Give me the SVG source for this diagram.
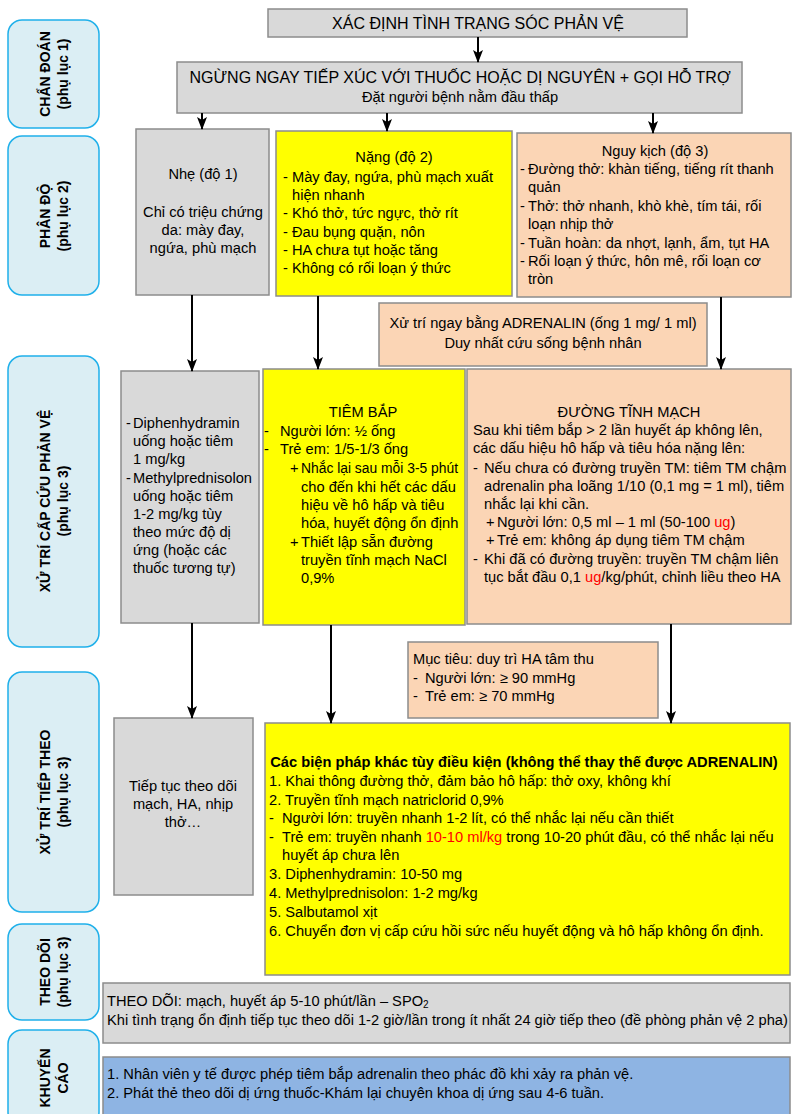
<svg xmlns="http://www.w3.org/2000/svg" width="792" height="1114" viewBox="0 0 792 1114">
  <defs>
    <marker id="arrow" viewBox="0 0 13 10" refX="12" refY="5" markerWidth="13" markerHeight="10" markerUnits="userSpaceOnUse" orient="auto">
      <path d="M0,0 L13,5 L0,10 L3,5 z" fill="#000"/>
    </marker>
    <style>
      text { font-family: "Liberation Sans", Arial, sans-serif; font-size: 14.67px; fill: #000; }
      .side { fill: #dbeef4; stroke: #1fb0ea; stroke-width: 1.5; }
      .sidelbl { font-size: 14px; font-weight: bold; text-anchor: middle; }
      .gray { fill: #d9d9d9; stroke: #8c8c8c; stroke-width: 1.5; }
      .yellow { fill: #ffff00; stroke: #8c8c8c; stroke-width: 1.5; }
      .peach { fill: #fbd5b5; stroke: #8c8c8c; stroke-width: 1.5; }
      .blue { fill: #8eb4e3; stroke: #8c8c8c; stroke-width: 1.5; }
      .head { font-size: 16px; }
      .mid { text-anchor: middle; }
      .red { fill: #ff0000; }
      .conn line { stroke: #000; stroke-width: 2; marker-end: url(#arrow); }
    </style>
  </defs>
  <rect width="792" height="1114" fill="#fff"/>

  <!-- stage labels on the left -->
  <g id="stage-chan-doan">
    <rect class="side" x="8" y="20" width="91" height="108" rx="14"/>
    <text class="sidelbl" transform="translate(50,74) rotate(-90)">CHẨN ĐOÁN</text>
    <text class="sidelbl" transform="translate(68,74) rotate(-90)">(phụ lục 1)</text>
  </g>
  <g id="stage-phan-do">
    <rect class="side" x="8" y="136" width="91" height="159" rx="14"/>
    <text class="sidelbl" transform="translate(50,216) rotate(-90)">PHÂN ĐỘ</text>
    <text class="sidelbl" transform="translate(68,216) rotate(-90)">(phụ lục 2)</text>
  </g>
  <g id="stage-xu-tri-cap-cuu">
    <rect class="side" x="8" y="356" width="91" height="291" rx="14"/>
    <text class="sidelbl" transform="translate(50,501) rotate(-90)">XỬ TRÍ CẤP CỨU PHẢN VỆ</text>
    <text class="sidelbl" transform="translate(68,501) rotate(-90)">(phụ lục 3)</text>
  </g>
  <g id="stage-xu-tri-tiep-theo">
    <rect class="side" x="8" y="672" width="91" height="240" rx="14"/>
    <text class="sidelbl" transform="translate(50,792) rotate(-90)">XỬ TRÍ TIẾP THEO</text>
    <text class="sidelbl" transform="translate(68,792) rotate(-90)">(phụ lục 3)</text>
  </g>
  <g id="stage-theo-doi">
    <rect class="side" x="8" y="924" width="91" height="96" rx="14"/>
    <text class="sidelbl" transform="translate(50,972) rotate(-90)">THEO DÕI</text>
    <text class="sidelbl" transform="translate(68,972) rotate(-90)">(phụ lục 3)</text>
  </g>
  <g id="stage-khuyen-cao">
    <rect class="side" x="8" y="1030" width="91" height="96" rx="14"/>
    <text class="sidelbl" transform="translate(50,1078) rotate(-90)">KHUYẾN</text>
    <text class="sidelbl" transform="translate(68,1078) rotate(-90)">CÁO</text>
  </g>

  <!-- diagnosis -->
  <g id="xac-dinh">
    <rect class="gray" x="268" y="9" width="419" height="28"/>
    <text class="head mid" x="478" y="29">XÁC ĐỊNH TÌNH TRẠNG SÓC PHẢN VỆ</text>
  </g>
  <g id="ngung-tiep-xuc">
    <rect class="gray" x="177" y="62" width="565" height="51"/>
    <text class="head mid" x="460" y="83">NGỪNG NGAY TIẾP XÚC VỚI THUỐC HOẶC DỊ NGUYÊN + GỌI HỖ TRỢ</text>
    <text class="mid" x="460" y="102">Đặt người bệnh nằm đầu thấp</text>
  </g>

  <!-- severity grades -->
  <g id="do-1">
    <rect class="gray" x="136" y="129" width="133" height="166"/>
    <text class="mid" x="203" y="179">Nhẹ (độ 1)</text>
    <text class="mid" x="203" y="217">Chỉ có triệu chứng</text>
    <text class="mid" x="203" y="235">da: mày đay,</text>
    <text class="mid" x="203" y="253">ngứa, phù mạch</text>
  </g>
  <g id="do-2">
    <rect class="yellow" x="276" y="131" width="236" height="165"/>
    <text class="mid" x="394" y="162">Nặng (độ 2)</text>
    <text x="283" y="182">-</text><text x="292" y="182">Mày đay, ngứa, phù mạch xuất</text>
    <text x="292" y="200">hiện nhanh</text>
    <text x="283" y="218">-</text><text x="292" y="218">Khó thở, tức ngực, thở rít</text>
    <text x="283" y="237">-</text><text x="292" y="237">Đau bụng quặn, nôn</text>
    <text x="283" y="255">-</text><text x="292" y="255">HA chưa tụt hoặc tăng</text>
    <text x="283" y="273">-</text><text x="292" y="273">Không có rối loạn ý thức</text>
  </g>
  <g id="do-3">
    <rect class="peach" x="517" y="133" width="274" height="164"/>
    <text class="mid" x="655" y="156">Nguy kịch (độ 3)</text>
    <text x="520" y="174">-</text><text x="528" y="174">Đường thở: khàn tiếng, tiếng rít thanh</text>
    <text x="528" y="192">quản</text>
    <text x="520" y="211">-</text><text x="528" y="211">Thở: thở nhanh, khò khè, tím tái, rối</text>
    <text x="528" y="229">loạn nhịp thở</text>
    <text x="520" y="248">-</text><text x="528" y="248">Tuần hoàn: da nhợt, lạnh, ẩm, tụt HA</text>
    <text x="520" y="266">-</text><text x="528" y="266">Rối loạn ý thức, hôn mê, rối loạn cơ</text>
    <text x="528" y="284">tròn</text>
  </g>
  <g id="adrenalin">
    <rect class="peach" x="379" y="303" width="328" height="63"/>
    <text class="mid" x="543" y="328">Xử trí ngay bằng ADRENALIN (ống 1 mg/ 1 ml)</text>
    <text class="mid" x="543" y="348">Duy nhất cứu sống bệnh nhân</text>
  </g>

  <!-- emergency treatment -->
  <g id="khang-histamin">
    <rect class="gray" x="121" y="371" width="138" height="252"/>
    <text x="126" y="428">-</text><text x="133" y="428">Diphenhydramin</text>
    <text x="133" y="446">uống hoặc tiêm</text>
    <text x="133" y="464">1 mg/kg</text>
    <text x="126" y="483">-</text><text x="133" y="483">Methylprednisolon</text>
    <text x="133" y="501">uống hoặc tiêm</text>
    <text x="133" y="519">1-2 mg/kg tùy</text>
    <text x="133" y="537">theo mức độ dị</text>
    <text x="133" y="555">ứng (hoặc các</text>
    <text x="133" y="573">thuốc tương tự)</text>
  </g>
  <g id="tiem-bap">
    <rect class="yellow" x="263" y="369" width="202" height="256"/>
    <text class="mid" x="363" y="417">TIÊM BẮP</text>
    <text x="264" y="436">-</text><text x="280" y="436">Người lớn: ½ ống</text>
    <text x="264" y="454">-</text><text x="280" y="454">Trẻ em: 1/5-1/3 ống</text>
    <text x="290" y="473">+</text><text x="301" y="473" textLength="157" lengthAdjust="spacingAndGlyphs">Nhắc lại sau mỗi 3-5 phút</text>
    <text x="301" y="492">cho đến khi hết các dấu</text>
    <text x="301" y="510">hiệu về hô hấp và tiêu</text>
    <text x="301" y="528">hóa, huyết động ổn định</text>
    <text x="290" y="547">+</text><text x="301" y="547">Thiết lập sẵn đường</text>
    <text x="301" y="565">truyền tĩnh mạch NaCl</text>
    <text x="301" y="583">0,9%</text>
  </g>
  <g id="tinh-mach">
    <rect class="peach" x="467" y="369" width="324" height="255"/>
    <text class="mid" x="629" y="417">ĐƯỜNG TĨNH MẠCH</text>
    <text x="473" y="435">Sau khi tiêm bắp &gt; 2 lần huyết áp không lên,</text>
    <text x="473" y="453">các dấu hiệu hô hấp và tiêu hóa nặng lên:</text>
    <text x="473" y="473">-</text><text x="484" y="473">Nếu chưa có đường truyền TM: tiêm TM chậm</text>
    <text x="484" y="491">adrenalin pha loãng 1/10 (0,1 mg = 1 ml), tiêm</text>
    <text x="484" y="509">nhắc lại khi cần.</text>
    <text x="486" y="527">+</text><text x="497" y="527">Người lớn: 0,5 ml – 1 ml (50-100 <tspan class="red">ug</tspan>)</text>
    <text x="486" y="545">+</text><text x="497" y="545">Trẻ em: không áp dụng tiêm TM chậm</text>
    <text x="473" y="564">-</text><text x="484" y="564">Khi đã có đường truyền: truyền TM chậm liên</text>
    <text x="484" y="582">tục bắt đầu 0,1 <tspan class="red">ug</tspan>/kg/phút, chỉnh liều theo HA</text>
  </g>

  <!-- follow-up treatment -->
  <g id="muc-tieu">
    <rect class="peach" x="408" y="642" width="250" height="76"/>
    <text x="413" y="664">Mục tiêu: duy trì HA tâm thu</text>
    <text x="413" y="683">-</text><text x="425" y="683">Người lớn: ≥ 90 mmHg</text>
    <text x="413" y="701">-</text><text x="425" y="701">Trẻ em: ≥ 70 mmHg</text>
  </g>
  <g id="tiep-tuc-theo-doi">
    <rect class="gray" x="114" y="718" width="139" height="177"/>
    <text class="mid" x="183" y="791">Tiếp tục theo dõi</text>
    <text class="mid" x="183" y="809">mạch, HA, nhịp</text>
    <text class="mid" x="183" y="827">thở…</text>
  </g>
  <g id="bien-phap-khac">
    <rect class="yellow" x="265" y="723" width="525" height="252"/>
    <text class="mid" x="524" y="767" font-weight="bold">Các biện pháp khác tùy điều kiện (không thể thay thế được ADRENALIN)</text>
    <text x="269" y="786">1. Khai thông đường thở, đảm bảo hô hấp: thở oxy, không khí</text>
    <text x="269" y="805">2. Truyền tĩnh mạch natriclorid 0,9%</text>
    <text x="269" y="823">-</text><text x="282" y="823">Người lớn: truyền nhanh 1-2 lít, có thể nhắc lại nếu cần thiết</text>
    <text x="269" y="842">-</text><text x="282" y="842">Trẻ em: truyền nhanh <tspan class="red">10-10 ml/kg</tspan> trong 10-20 phút đầu, có thể nhắc lại nếu</text>
    <text x="282" y="860">huyết áp chưa lên</text>
    <text x="269" y="879">3. Diphenhydramin: 10-50 mg</text>
    <text x="269" y="898">4. Methylprednisolon: 1-2 mg/kg</text>
    <text x="269" y="917">5. Salbutamol xịt</text>
    <text x="269" y="936">6. Chuyển đơn vị cấp cứu hồi sức nếu huyết động và hô hấp không ổn định.</text>
  </g>

  <!-- monitoring and advice -->
  <g id="theo-doi">
    <rect class="gray" x="103" y="983" width="687" height="60"/>
    <text x="107" y="1006">THEO DÕI: mạch, huyết áp 5-10 phút/lần – SPO<tspan font-size="10" dy="2">2</tspan></text>
    <text x="107" y="1025">Khi tình trạng ổn định tiếp tục theo dõi 1-2 giờ/lần trong ít nhất 24 giờ tiếp theo (đề phòng phản vệ 2 pha)</text>
  </g>
  <g id="khuyen-cao">
    <rect class="blue" x="103" y="1057" width="687" height="66"/>
    <text x="107" y="1079">1. Nhân viên y tế được phép tiêm bắp adrenalin theo phác đồ khi xảy ra phản vệ.</text>
    <text x="107" y="1098">2. Phát thẻ theo dõi dị ứng thuốc-Khám lại chuyên khoa dị ứng sau 4-6 tuần.</text>
  </g>

  <!-- connectors -->
  <g id="connectors" class="conn">
    <line x1="478" y1="37" x2="478" y2="62"/>
    <line x1="202" y1="113" x2="202" y2="129"/>
    <line x1="387" y1="113" x2="387" y2="131"/>
    <line x1="653" y1="113" x2="653" y2="133"/>
    <line x1="192" y1="295" x2="192" y2="371"/>
    <line x1="318" y1="296" x2="318" y2="369"/>
    <line x1="721" y1="297" x2="721" y2="369"/>
    <line x1="192" y1="623" x2="192" y2="718"/>
    <line x1="331" y1="625" x2="331" y2="723"/>
    <line x1="671" y1="624" x2="671" y2="723"/>
  </g>
</svg>
